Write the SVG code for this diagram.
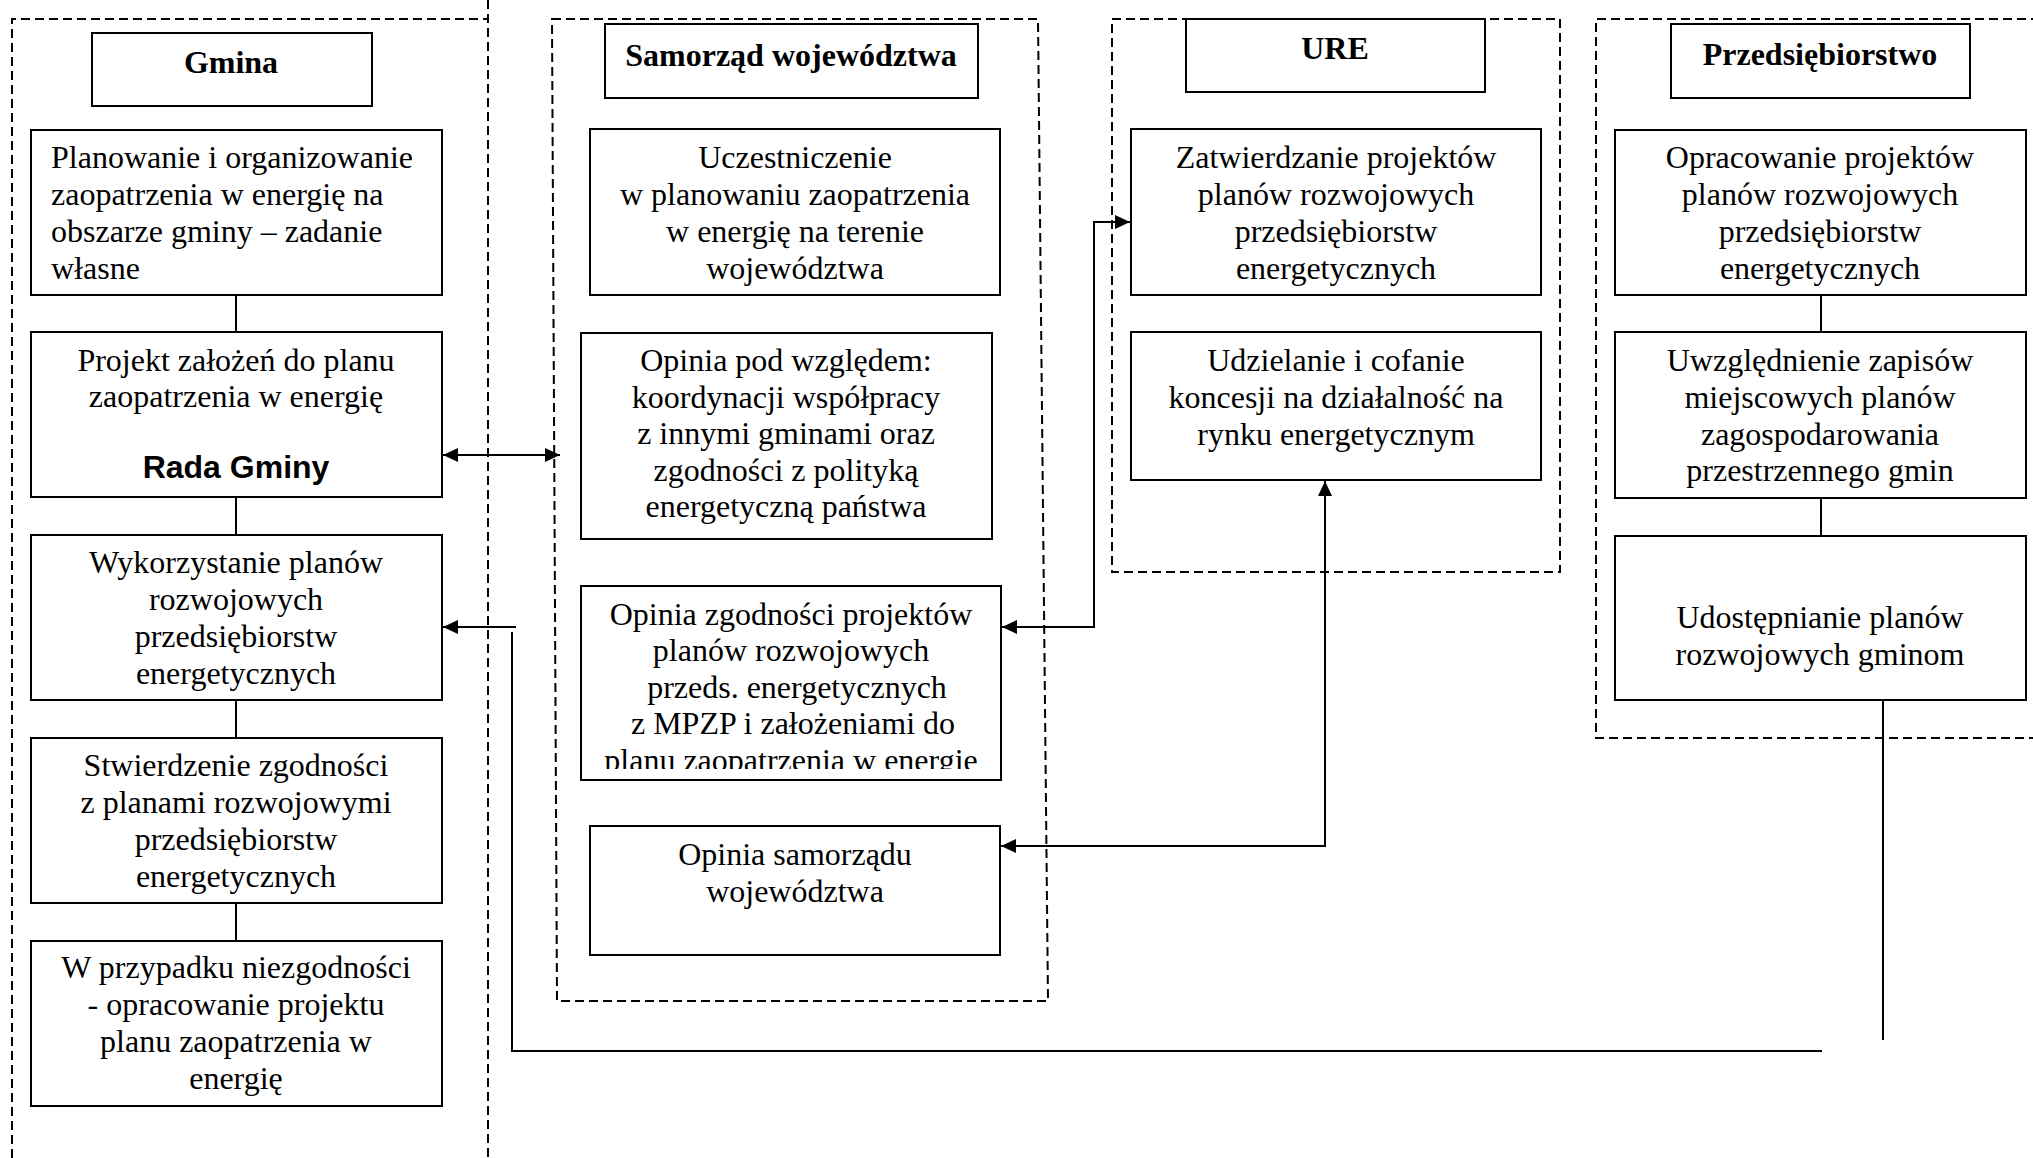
<svg xmlns="http://www.w3.org/2000/svg" width="2033" height="1158" viewBox="0 0 2033 1158">
<style>
.bg{fill:#fff}
.box{fill:#fff;stroke:#000;stroke-width:2}
.grp{fill:none;stroke:#000;stroke-width:2;stroke-dasharray:9 5}
.t{font-family:"Liberation Serif","Times New Roman",serif;font-size:32px;text-anchor:middle;fill:#000}
.tl{text-anchor:start}
.h{font-weight:bold}
.s{font-family:"Liberation Sans",Arial,sans-serif;font-weight:bold}
.c{fill:none;stroke:#000;stroke-width:2}
.a{marker-end:url(#ah)}
.ab{marker-end:url(#ah);marker-start:url(#ah)}
</style>
<defs>
<marker id="ah" markerWidth="16" markerHeight="14" refX="15" refY="7" orient="auto-start-reverse" markerUnits="userSpaceOnUse">
<path d="M0,0 L15,7 L0,14 z" fill="#000"/>
</marker>
<clipPath id="clipZ"><rect x="581" y="586" width="421" height="183"/></clipPath>
</defs>
<rect class="bg" x="0" y="0" width="2033" height="1158"/>

<g id="groups">
<path id="grp-gmina" class="grp" d="M12,1158 L12,19 L488,19 M488,0 L488,1158"/>
<path id="grp-samorzad" class="grp" d="M552,19 L1038,19 L1048,1001 L557,1001 Z"/>
<rect id="grp-ure" class="grp" x="1112" y="19" width="448" height="553"/>
<path id="grp-przeds" class="grp" d="M2040,19 L1596,19 L1596,738 L2040,738"/>
</g>

<g id="connectors">
<line class="c" x1="236" y1="295" x2="236" y2="332"/>
<line class="c" x1="236" y1="497" x2="236" y2="535"/>
<line class="c" x1="236" y1="700" x2="236" y2="738"/>
<line class="c" x1="236" y1="903" x2="236" y2="941"/>
<line class="c ab" x1="443" y1="455" x2="560" y2="455"/>
<line class="c a" x1="516" y1="627" x2="443" y2="627"/>
<polyline class="c" points="512,632 512,1051 1822,1051"/>
<line class="c" x1="1883" y1="700" x2="1883" y2="1040"/>
<line class="c" x1="1821" y1="295" x2="1821" y2="332"/>
<line class="c" x1="1821" y1="498" x2="1821" y2="536"/>
<polyline class="c ab" points="1002,627 1094,627 1094,222 1130,222"/>
<polyline class="c ab" points="1001,846 1325,846 1325,481"/>
</g>

<g id="gmina-title"><rect class="box" x="92" y="33" width="280" height="73"/><text class="t h" x="231" y="73">Gmina</text></g>
<g id="gmina-1"><rect class="box" x="31" y="130" width="411" height="165"/>
<text class="t tl" x="51" y="168">Planowanie i organizowanie</text>
<text class="t tl" x="51" y="205">zaopatrzenia w energię na</text>
<text class="t tl" x="51" y="242">obszarze gminy – zadanie</text>
<text class="t tl" x="51" y="279">własne</text></g>
<g id="gmina-2"><rect class="box" x="31" y="332" width="411" height="165"/>
<text class="t" x="236" y="371">Projekt założeń do planu</text>
<text class="t" x="236" y="407">zaopatrzenia w energię</text>
<text class="t s" x="236" y="478">Rada Gminy</text></g>
<g id="gmina-3"><rect class="box" x="31" y="535" width="411" height="165"/>
<text class="t" x="236" y="573">Wykorzystanie planów</text>
<text class="t" x="236" y="610">rozwojowych</text>
<text class="t" x="236" y="647">przedsiębiorstw</text>
<text class="t" x="236" y="684">energetycznych</text></g>
<g id="gmina-4"><rect class="box" x="31" y="738" width="411" height="165"/>
<text class="t" x="236" y="776">Stwierdzenie zgodności</text>
<text class="t" x="236" y="813">z planami rozwojowymi</text>
<text class="t" x="236" y="850">przedsiębiorstw</text>
<text class="t" x="236" y="887">energetycznych</text></g>
<g id="gmina-5"><rect class="box" x="31" y="941" width="411" height="165"/>
<text class="t" x="236" y="978">W przypadku niezgodności</text>
<text class="t" x="236" y="1015">- opracowanie projektu</text>
<text class="t" x="236" y="1052">planu zaopatrzenia w</text>
<text class="t" x="236" y="1089">energię</text></g>

<g id="sam-title"><rect class="box" x="605" y="24" width="373" height="74"/><text class="t h" x="791" y="66">Samorząd województwa</text></g>
<g id="sam-1"><rect class="box" x="590" y="129" width="410" height="166"/>
<text class="t" x="795" y="168">Uczestniczenie</text>
<text class="t" x="795" y="205">w planowaniu zaopatrzenia</text>
<text class="t" x="795" y="242">w energię na terenie</text>
<text class="t" x="795" y="279">województwa</text></g>
<g id="sam-2"><rect class="box" x="581" y="333" width="411" height="206"/>
<text class="t" x="786" y="371">Opinia pod względem:</text>
<text class="t" x="786" y="407.5">koordynacji współpracy</text>
<text class="t" x="786" y="444">z innymi gminami oraz</text>
<text class="t" x="786" y="480.5">zgodności z polityką</text>
<text class="t" x="786" y="517">energetyczną państwa</text></g>
<g id="sam-3"><rect class="box" x="581" y="586" width="420" height="194"/>
<g clip-path="url(#clipZ)">
<text class="t" x="791" y="625">Opinia zgodności projektów</text>
<text class="t" x="791" y="661">planów rozwojowych</text>
<text class="t" x="797" y="698">przeds. energetycznych</text>
<text class="t" x="793" y="734">z MPZP i założeniami do</text>
<text class="t" x="791" y="771">planu zaopatrzenia w energię</text>
</g></g>
<g id="sam-4"><rect class="box" x="590" y="826" width="410" height="129"/>
<text class="t" x="795" y="865">Opinia samorządu</text>
<text class="t" x="795" y="902">województwa</text></g>

<g id="ure-title"><rect class="box" x="1186" y="19" width="299" height="73"/><text class="t h" x="1335" y="59">URE</text></g>
<g id="ure-1"><rect class="box" x="1131" y="129" width="410" height="166"/>
<text class="t" x="1336" y="168">Zatwierdzanie projektów</text>
<text class="t" x="1336" y="205">planów rozwojowych</text>
<text class="t" x="1336" y="242">przedsiębiorstw</text>
<text class="t" x="1336" y="279">energetycznych</text></g>
<g id="ure-2"><rect class="box" x="1131" y="332" width="410" height="148"/>
<text class="t" x="1336" y="371">Udzielanie i cofanie</text>
<text class="t" x="1336" y="408">koncesji na działalność na</text>
<text class="t" x="1336" y="445">rynku energetycznym</text></g>

<g id="prz-title"><rect class="box" x="1671" y="24" width="299" height="74"/><text class="t h" x="1820" y="65">Przedsiębiorstwo</text></g>
<g id="prz-1"><rect class="box" x="1615" y="130" width="411" height="165"/>
<text class="t" x="1820" y="168">Opracowanie projektów</text>
<text class="t" x="1820" y="205">planów rozwojowych</text>
<text class="t" x="1820" y="242">przedsiębiorstw</text>
<text class="t" x="1820" y="279">energetycznych</text></g>
<g id="prz-2"><rect class="box" x="1615" y="332" width="411" height="166"/>
<text class="t" x="1820" y="371">Uwzględnienie zapisów</text>
<text class="t" x="1820" y="408">miejscowych planów</text>
<text class="t" x="1820" y="445">zagospodarowania</text>
<text class="t" x="1820" y="481">przestrzennego gmin</text></g>
<g id="prz-3"><rect class="box" x="1615" y="536" width="411" height="164"/>
<text class="t" x="1820" y="628">Udostępnianie planów</text>
<text class="t" x="1820" y="665">rozwojowych gminom</text></g>
</svg>
